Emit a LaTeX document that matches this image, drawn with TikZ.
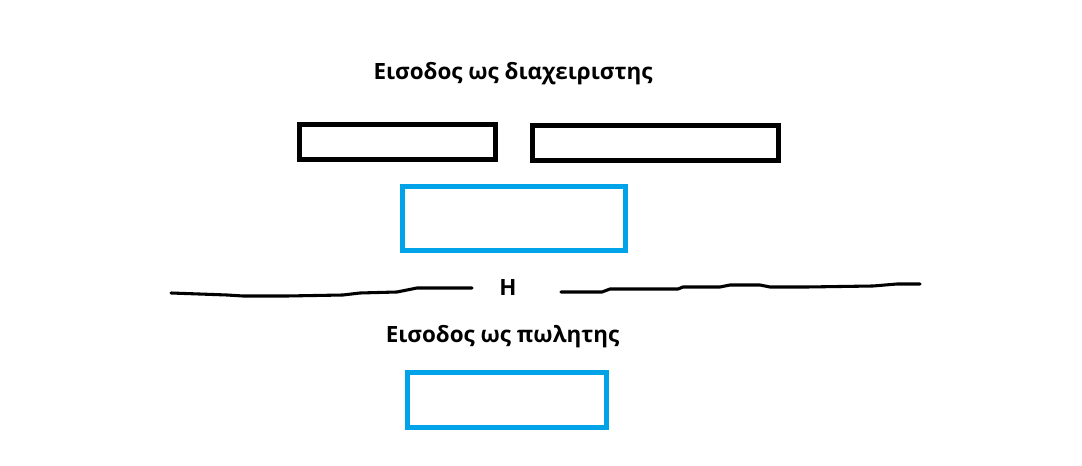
\documentclass[tikz,border=0pt]{standalone}
\usepackage{fontspec}
\setmainfont{Open Sans}
\usepackage{tikz}
\definecolor{paintblue}{RGB}{0,162,232}

\begin{document}
\begin{tikzpicture}[x=0.75pt,y=-0.75pt]
        \tikzstyle{every node} = [inner sep=0, outer sep=0]
        \tikzstyle{title} = [anchor=base, font=\fontsize{16.8}{20}\selectfont\bfseries]
        \tikzstyle{field} = [rectangle, draw, line width=3.6pt]
        \useasboundingbox (0,0) rectangle (1082,466);

        \node[title] (admin) at (513,80) {Εισοδος ως διαχειριστης};
        \node[field, minimum width=0.75*196pt, minimum height=0.75*35pt] (user) at (397.5,142) {};
        \node[field, minimum width=0.75*246pt, minimum height=0.75*35pt] (pass) at (655.5,143) {};
        \node[field, draw=paintblue, minimum width=0.75*223pt, minimum height=0.75*64pt] (btn1) at (514,218.5) {};

        \node[title] (or) at (508,296) {H};
        \draw[line width=2.3pt, line cap=round] (171,293) -- (227,295) -- (243,296) -- (287,296)
            -- (343,295) -- (360,293) -- (397,292) -- (417,288) -- (472,288);
        \draw[line width=2.3pt, line cap=round] (561,292) -- (602,292) -- (610,289) -- (678,289)
            -- (683,287) -- (720,287) -- (730,285) -- (760,285) -- (770,287) -- (807,287)
            -- (873,286) -- (897,284) -- (920,284);

        \node[title] (seller) at (502.5,343) {Εισοδος ως πωλητης};
        \node[field, draw=paintblue, minimum width=0.75*199pt, minimum height=0.75*55pt] (btn2) at (507,400) {};
      \end{tikzpicture}
\end{document}
